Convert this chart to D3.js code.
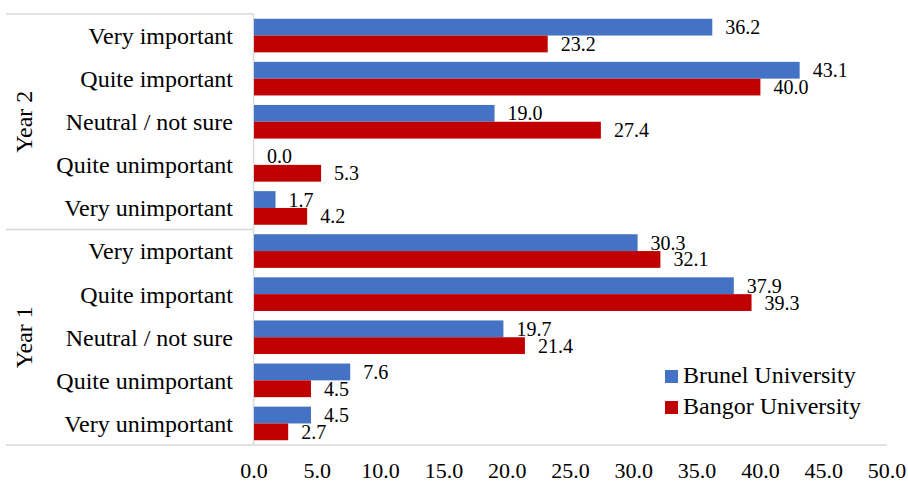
<!DOCTYPE html>
<html>
<head>
<meta charset="utf-8">
<script src="https://cdn.jsdelivr.net/npm/d3@7"></script>
<style>
  html, body { margin: 0; padding: 0; background: #fff; }
  #chart text { font-family: "Liberation Serif", "Times New Roman", Times, serif; fill: #000; }
</style>
</head>
<body>
<svg id="chart" width="908" height="483"></svg>
<script>
// Response categories, listed top to bottom within each year
const categories = ["Very important", "Quite important", "Neutral / not sure", "Quite unimportant", "Very unimportant"];
const years = ["Year 2", "Year 1"];
const seriesNames = ["Brunel University", "Bangor University"];
const seriesColors = ["#4472C4", "#C00000"];

// Percentages per year, in category order
const brunelYear2 = [36.2, 43.1, 19.0, 0.0, 1.7];
const bangorYear2 = [23.2, 40.0, 27.4, 5.3, 4.2];
const brunelYear1 = [30.3, 37.9, 19.7, 7.6, 4.5];
const bangorYear1 = [32.1, 39.3, 21.4, 4.5, 2.7];

const xTicks = [0, 5, 10, 15, 20, 25, 30, 35, 40, 45, 50];

const rows = [];
years.forEach((yr, yi) => {
  const b = yi === 0 ? brunelYear2 : brunelYear1;
  const g = yi === 0 ? bangorYear2 : bangorYear1;
  categories.forEach((c, ci) => {
    rows.push({ key: yr + "|" + c, year: yr, cat: c, values: [b[ci], g[ci]] });
  });
});

const svg = d3.select("#chart");
const plot = { left: 254, right: 887, top: 14, bottom: 445 };

const x = d3.scaleLinear().domain([0, 50]).range([plot.left, plot.right]);
const y = d3.scaleBand().domain(rows.map(d => d.key))
  .range([plot.top, plot.bottom]).paddingInner(0.22).paddingOuter(0.11);
const ySeries = d3.scaleBand().domain([0, 1]).range([0, y.bandwidth()]);

const lineColor = "#d9d9d9";

// Axis frame: category axis line, group dividers, bottom rule
const yearBand = d3.scaleBand().domain(years).range([plot.top, plot.bottom]);
svg.append("line").attr("x1", plot.left - 0.5).attr("x2", plot.left - 0.5)
  .attr("y1", plot.top).attr("y2", plot.bottom)
  .attr("stroke", lineColor).attr("stroke-width", 1.5);
[plot.top, yearBand("Year 1")].forEach(yy => {
  svg.append("line").attr("x1", 6).attr("x2", plot.left)
    .attr("y1", yy).attr("y2", yy)
    .attr("stroke", lineColor).attr("stroke-width", 1.5);
});
svg.append("line").attr("x1", 6).attr("x2", plot.right)
  .attr("y1", plot.bottom).attr("y2", plot.bottom)
  .attr("stroke", lineColor).attr("stroke-width", 1.5);

// Bars
const groups = svg.append("g").selectAll("g").data(rows).join("g")
  .attr("transform", d => `translate(0,${y(d.key)})`);

groups.selectAll("rect").data(d => d.values.map((v, i) => ({ v, i })))
  .join("rect")
  .attr("x", x(0))
  .attr("y", d => ySeries(d.i))
  .attr("width", d => x(d.v) - x(0))
  .attr("height", ySeries.bandwidth())
  .attr("fill", d => seriesColors[d.i]);

// Value labels
groups.selectAll("text.val").data(d => d.values.map((v, i) => ({ v, i })))
  .join("text").attr("class", "val")
  .attr("x", d => x(d.v) + 13)
  .attr("y", d => ySeries(d.i) + ySeries.bandwidth() / 2)
  .attr("dy", "0.35em")
  .style("font-size", "20px")
  .text(d => d.v.toFixed(1));

// Category labels
svg.append("g").selectAll("text").data(rows).join("text")
  .attr("x", 233)
  .attr("y", d => y(d.key) + y.bandwidth() / 2)
  .attr("dy", "0.35em")
  .attr("text-anchor", "end")
  .style("font-size", "24px")
  .text(d => d.cat);

// Year labels, rotated
svg.append("g").selectAll("text").data(years).join("text")
  .attr("transform", d => `translate(32,${yearBand(d) + yearBand.bandwidth() / 2}) rotate(-90)`)
  .attr("text-anchor", "middle")
  .style("font-size", "24px")
  .text(d => d);

// X axis tick labels
svg.append("g").selectAll("text").data(xTicks).join("text")
  .attr("x", d => x(d))
  .attr("y", 478)
  .attr("text-anchor", "middle")
  .style("font-size", "22px")
  .text(d => d.toFixed(1));

// Legend
const legend = svg.append("g").attr("transform", "translate(665,370)");
seriesNames.forEach((name, i) => {
  const g = legend.append("g").attr("transform", `translate(0,${i * 31})`);
  g.append("rect").attr("width", 13).attr("height", 13).attr("fill", seriesColors[i]);
  g.append("text").attr("x", 18).attr("y", 13)
    .style("font-size", "24px")
    .text(name);
});
</script>
</body>
</html>
